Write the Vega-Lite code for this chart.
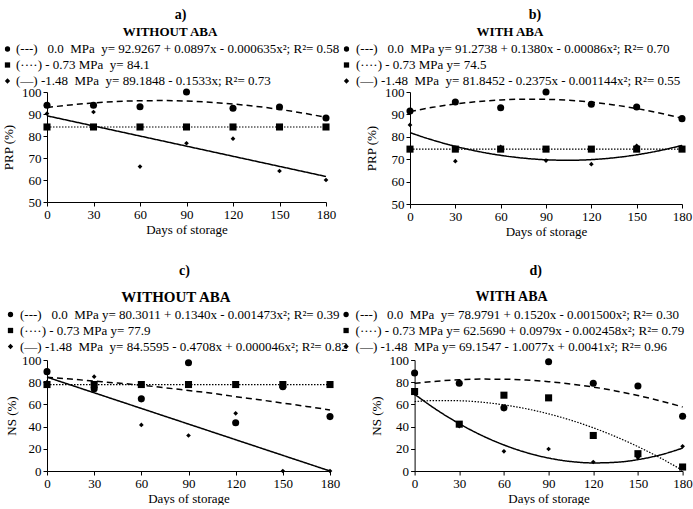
{
  "$schema": "https://vega.github.io/schema/vega-lite/v6.json",
  "background": "white",
  "padding": {"left": 1, "top": 7, "right": 0, "bottom": 0},
  "config": {
    "font": "Liberation Serif",
    "view": {"stroke": null},
    "axis": {"grid": false, "domainColor": "black", "tickColor": "black", "labelColor": "black", "titleColor": "black", "labelFont": "Liberation Serif", "titleFont": "Liberation Serif", "labelFontSize": 13, "titleFontSize": 13, "titleFontWeight": "normal", "tickSize": 4, "labelPadding": 2, "labelOverlap": false, "labelFlush": false},
    "axisX": {"titlePadding": 2},
    "axisY": {"titlePadding": 6},
    "legend": {"titleFont": "Liberation Serif", "titleFontSize": 13, "titleFontWeight": "bold", "titleColor": "black", "titleAnchor": "middle", "labelFont": "Liberation Serif", "labelFontSize": 13, "labelColor": "black", "labelLimit": 500, "symbolSize": 28, "symbolFillColor": "black", "symbolStrokeColor": "black", "symbolStrokeWidth": 0, "rowPadding": 2, "labelOffset": 3, "padding": 0, "titlePadding": 4},
    "title": {"font": "Liberation Serif", "fontSize": 14, "fontWeight": "bold", "color": "black", "anchor": "middle", "frame": "group"}
  },
  "datasets": {
    "a_pts": [
      {"s": "0.0", "x": 0, "y": 94}, {"s": "0.0", "x": 30, "y": 94}, {"s": "0.0", "x": 60, "y": 93.3}, {"s": "0.0", "x": 90, "y": 100}, {"s": "0.0", "x": 120, "y": 92.6}, {"s": "0.0", "x": 150, "y": 93.2}, {"s": "0.0", "x": 180, "y": 88.2},
      {"s": "-0.73", "x": 0, "y": 84.1}, {"s": "-0.73", "x": 30, "y": 84.1}, {"s": "-0.73", "x": 60, "y": 84.1}, {"s": "-0.73", "x": 90, "y": 84.1}, {"s": "-0.73", "x": 120, "y": 84.1}, {"s": "-0.73", "x": 150, "y": 84.1}, {"s": "-0.73", "x": 180, "y": 84.1},
      {"s": "-1.48", "x": 0, "y": 90.2}, {"s": "-1.48", "x": 30, "y": 90.9}, {"s": "-1.48", "x": 60, "y": 66.1}, {"s": "-1.48", "x": 90, "y": 76.7}, {"s": "-1.48", "x": 120, "y": 78.8}, {"s": "-1.48", "x": 150, "y": 64.1}, {"s": "-1.48", "x": 180, "y": 60}
    ],
    "a_fit": [
      {"s": "0.0", "x": 0, "y": 92.93}, {"s": "0.0", "x": 15, "y": 94.13}, {"s": "0.0", "x": 30, "y": 95.05}, {"s": "0.0", "x": 45, "y": 95.68}, {"s": "0.0", "x": 60, "y": 96.02}, {"s": "0.0", "x": 75, "y": 96.09}, {"s": "0.0", "x": 90, "y": 95.86}, {"s": "0.0", "x": 105, "y": 95.35}, {"s": "0.0", "x": 120, "y": 94.55}, {"s": "0.0", "x": 135, "y": 93.47}, {"s": "0.0", "x": 150, "y": 92.1}, {"s": "0.0", "x": 165, "y": 90.44}, {"s": "0.0", "x": 180, "y": 88.5},
      {"s": "-0.73", "x": 0, "y": 84.1}, {"s": "-0.73", "x": 180, "y": 84.1},
      {"s": "-1.48", "x": 0, "y": 89.18}, {"s": "-1.48", "x": 180, "y": 61.59}
    ],
    "b_pts": [
      {"s": "0.0", "x": 0, "y": 91.5}, {"s": "0.0", "x": 30, "y": 95.5}, {"s": "0.0", "x": 60, "y": 93}, {"s": "0.0", "x": 90, "y": 100}, {"s": "0.0", "x": 120, "y": 94.5}, {"s": "0.0", "x": 150, "y": 93.3}, {"s": "0.0", "x": 180, "y": 88.1},
      {"s": "-0.73", "x": 0, "y": 74.5}, {"s": "-0.73", "x": 30, "y": 74.5}, {"s": "-0.73", "x": 60, "y": 74.5}, {"s": "-0.73", "x": 90, "y": 74.5}, {"s": "-0.73", "x": 120, "y": 74.5}, {"s": "-0.73", "x": 150, "y": 74.5}, {"s": "-0.73", "x": 180, "y": 74.5},
      {"s": "-1.48", "x": 0, "y": 85.3}, {"s": "-1.48", "x": 30, "y": 69.1}, {"s": "-1.48", "x": 60, "y": 75.5}, {"s": "-1.48", "x": 90, "y": 69.4}, {"s": "-1.48", "x": 120, "y": 67.8}, {"s": "-1.48", "x": 150, "y": 76}, {"s": "-1.48", "x": 180, "y": 75.2}
    ],
    "b_fit": [
      {"s": "0.0", "x": 0, "y": 91.27}, {"s": "0.0", "x": 15, "y": 93.15}, {"s": "0.0", "x": 30, "y": 94.64}, {"s": "0.0", "x": 45, "y": 95.74}, {"s": "0.0", "x": 60, "y": 96.45}, {"s": "0.0", "x": 75, "y": 96.78}, {"s": "0.0", "x": 90, "y": 96.72}, {"s": "0.0", "x": 105, "y": 96.28}, {"s": "0.0", "x": 120, "y": 95.45}, {"s": "0.0", "x": 135, "y": 94.23}, {"s": "0.0", "x": 150, "y": 92.62}, {"s": "0.0", "x": 165, "y": 90.63}, {"s": "0.0", "x": 180, "y": 88.25},
      {"s": "-0.73", "x": 0, "y": 74.5}, {"s": "-0.73", "x": 180, "y": 74.5},
      {"s": "-1.48", "x": 0, "y": 81.85}, {"s": "-1.48", "x": 15, "y": 78.54}, {"s": "-1.48", "x": 30, "y": 75.75}, {"s": "-1.48", "x": 45, "y": 73.48}, {"s": "-1.48", "x": 60, "y": 71.72}, {"s": "-1.48", "x": 75, "y": 70.48}, {"s": "-1.48", "x": 90, "y": 69.74}, {"s": "-1.48", "x": 105, "y": 69.52}, {"s": "-1.48", "x": 120, "y": 69.82}, {"s": "-1.48", "x": 135, "y": 70.64}, {"s": "-1.48", "x": 150, "y": 71.96}, {"s": "-1.48", "x": 165, "y": 73.81}, {"s": "-1.48", "x": 180, "y": 76.17}
    ],
    "c_pts": [
      {"s": "0.0", "x": 0, "y": 89.5}, {"s": "0.0", "x": 30, "y": 74}, {"s": "0.0", "x": 60, "y": 65}, {"s": "0.0", "x": 90, "y": 97.5}, {"s": "0.0", "x": 120, "y": 43.5}, {"s": "0.0", "x": 150, "y": 76}, {"s": "0.0", "x": 180, "y": 49},
      {"s": "-0.73", "x": 0, "y": 77.9}, {"s": "-0.73", "x": 30, "y": 77.9}, {"s": "-0.73", "x": 60, "y": 77.9}, {"s": "-0.73", "x": 90, "y": 77.9}, {"s": "-0.73", "x": 120, "y": 77.9}, {"s": "-0.73", "x": 150, "y": 77.9}, {"s": "-0.73", "x": 180, "y": 77.9},
      {"s": "-1.48", "x": 0, "y": 80}, {"s": "-1.48", "x": 30, "y": 85}, {"s": "-1.48", "x": 60, "y": 41.5}, {"s": "-1.48", "x": 90, "y": 32}, {"s": "-1.48", "x": 120, "y": 52}, {"s": "-1.48", "x": 150, "y": 0}, {"s": "-1.48", "x": 180, "y": 0}
    ],
    "c_fit": [
      {"s": "0.0", "x": 0, "y": 84.5}, {"s": "0.0", "x": 15, "y": 82.8}, {"s": "0.0", "x": 30, "y": 81}, {"s": "0.0", "x": 45, "y": 79.2}, {"s": "0.0", "x": 60, "y": 77.3}, {"s": "0.0", "x": 75, "y": 75}, {"s": "0.0", "x": 90, "y": 72.5}, {"s": "0.0", "x": 105, "y": 70}, {"s": "0.0", "x": 120, "y": 67}, {"s": "0.0", "x": 135, "y": 64.2}, {"s": "0.0", "x": 150, "y": 61.2}, {"s": "0.0", "x": 165, "y": 58.2}, {"s": "0.0", "x": 180, "y": 55},
      {"s": "-0.73", "x": 0, "y": 77.9}, {"s": "-0.73", "x": 180, "y": 77.9},
      {"s": "-1.48", "x": 0, "y": 84.56}, {"s": "-1.48", "x": 180, "y": 0}
    ],
    "d_pts": [
      {"s": "0.0", "x": 0, "y": 88.3}, {"s": "0.0", "x": 30, "y": 79}, {"s": "0.0", "x": 60, "y": 56.9}, {"s": "0.0", "x": 90, "y": 98.5}, {"s": "0.0", "x": 120, "y": 79}, {"s": "0.0", "x": 150, "y": 76.6}, {"s": "0.0", "x": 180, "y": 49.4},
      {"s": "-0.73", "x": 0, "y": 71.6}, {"s": "-0.73", "x": 30, "y": 42.2}, {"s": "-0.73", "x": 60, "y": 68.3}, {"s": "-0.73", "x": 90, "y": 65.9}, {"s": "-0.73", "x": 120, "y": 32}, {"s": "-0.73", "x": 150, "y": 15.6}, {"s": "-0.73", "x": 180, "y": 3.6},
      {"s": "-1.48", "x": 0, "y": 70}, {"s": "-1.48", "x": 30, "y": 40.4}, {"s": "-1.48", "x": 60, "y": 17.7}, {"s": "-1.48", "x": 90, "y": 19.8}, {"s": "-1.48", "x": 120, "y": 8.1}, {"s": "-1.48", "x": 150, "y": 12}, {"s": "-1.48", "x": 180, "y": 22.2}
    ],
    "d_fit": [
      {"s": "0.0", "x": 0, "y": 78.98}, {"s": "0.0", "x": 15, "y": 80.92}, {"s": "0.0", "x": 30, "y": 82.19}, {"s": "0.0", "x": 45, "y": 82.78}, {"s": "0.0", "x": 60, "y": 82.7}, {"s": "0.0", "x": 75, "y": 81.94}, {"s": "0.0", "x": 90, "y": 80.51}, {"s": "0.0", "x": 105, "y": 78.4}, {"s": "0.0", "x": 120, "y": 75.62}, {"s": "0.0", "x": 135, "y": 72.16}, {"s": "0.0", "x": 150, "y": 68.03}, {"s": "0.0", "x": 165, "y": 63.22}, {"s": "0.0", "x": 180, "y": 57.74},
      {"s": "-0.73", "x": 0, "y": 62.57}, {"s": "-0.73", "x": 15, "y": 63.49}, {"s": "-0.73", "x": 30, "y": 63.3}, {"s": "-0.73", "x": 45, "y": 62.0}, {"s": "-0.73", "x": 60, "y": 59.59}, {"s": "-0.73", "x": 75, "y": 56.08}, {"s": "-0.73", "x": 90, "y": 51.47}, {"s": "-0.73", "x": 105, "y": 45.75}, {"s": "-0.73", "x": 120, "y": 38.92}, {"s": "-0.73", "x": 135, "y": 30.99}, {"s": "-0.73", "x": 150, "y": 21.95}, {"s": "-0.73", "x": 165, "y": 11.8}, {"s": "-0.73", "x": 180, "y": 0.55},
      {"s": "-1.48", "x": 0, "y": 69.15}, {"s": "-1.48", "x": 15, "y": 54.95}, {"s": "-1.48", "x": 30, "y": 42.61}, {"s": "-1.48", "x": 45, "y": 32.1}, {"s": "-1.48", "x": 60, "y": 23.45}, {"s": "-1.48", "x": 75, "y": 16.63}, {"s": "-1.48", "x": 90, "y": 11.67}, {"s": "-1.48", "x": 105, "y": 8.54}, {"s": "-1.48", "x": 120, "y": 7.27}, {"s": "-1.48", "x": 135, "y": 7.83}, {"s": "-1.48", "x": 150, "y": 10.24}, {"s": "-1.48", "x": 165, "y": 14.5}, {"s": "-1.48", "x": 180, "y": 20.6}
    ]
  },
  "spacing": 26,
  "resolve": {"scale": {"shape": "independent", "x": "independent", "y": "independent"}, "legend": {"shape": "independent"}, "axis": {"x": "independent", "y": "independent"}},
  "vconcat": [
    {
      "bounds": "flush",
      "spacing": 84,
      "resolve": {"scale": {"shape": "independent", "x": "independent", "y": "independent"}, "legend": {"shape": "independent"}, "axis": {"x": "independent", "y": "independent"}},
      "hconcat": [
        {
          "width": 279, "height": 110,
          "title": {"text": "a)", "dx": -6, "offset": 4},
          "layer": [
            {
              "data": {"name": "a_fit"},
              "mark": {"type": "line", "color": "black", "interpolate": "monotone"},
              "encoding": {
                "x": {"field": "x", "type": "quantitative", "scale": {"domain": [0, 180]}, "axis": {"values": [0, 30, 60, 90, 120, 150, 180], "tickCount": 7, "title": "Days of storage", "labelOverlap": false}},
                "y": {"field": "y", "type": "quantitative", "scale": {"domain": [50, 100]}, "axis": {"values": [50, 60, 70, 80, 90, 100], "tickCount": 6, "title": "PRP (%)", "labelOverlap": false, "titlePadding": 6}},
                "detail": {"field": "s", "type": "nominal"},
                "strokeDash": {"condition": [{"test": "datum.s == '0.0'", "value": [6, 4]}, {"test": "datum.s == '-0.73'", "value": [1.5, 1.5]}], "value": [1, 0]},
                "strokeWidth": {"condition": {"test": "datum.s == '-0.73'", "value": 1.2}, "value": 1.5}
              }
            },
            {
              "data": {"name": "a_pts"},
              "mark": {"type": "point", "filled": true, "color": "black", "opacity": 1},
              "encoding": {
                "x": {"field": "x", "type": "quantitative"},
                "y": {"field": "y", "type": "quantitative"},
                "size": {"condition": {"test": "datum.s == '-1.48'", "value": 22}, "value": 50},
                "shape": {"field": "s", "type": "nominal", "scale": {"domain": ["0.0", "-0.73", "-1.48"], "range": ["circle", "square", "diamond"]},
                  "legend": {"title": "WITHOUT ABA", "orient": "none", "legendX": -46, "legendY": -66.5, "labelOffset": 2,
                    "labelExpr": "datum.label == '0.0' ? '(---)\u00a0\u00a0 0.0 \u00a0MPa \u00a0y= 92.9267 + 0.0897x - 0.000635x²; R²= 0.58' : datum.label == '-0.73' ? '(····) - 0.73 MPa \u00a0y= 84.1' : '(—) -1.48 \u00a0MPa \u00a0y= 89.1848 - 0.1533x; R²= 0.73'"}}
              }
            }
          ]
        },
        {
          "width": 272, "height": 112,
          "title": {"text": "b)", "dx": -11, "offset": 4},
          "layer": [
            {
              "data": {"name": "b_fit"},
              "mark": {"type": "line", "color": "black", "interpolate": "monotone"},
              "encoding": {
                "x": {"field": "x", "type": "quantitative", "scale": {"domain": [0, 180]}, "axis": {"values": [0, 30, 60, 90, 120, 150, 180], "tickCount": 7, "title": "Days of storage", "labelOverlap": false}},
                "y": {"field": "y", "type": "quantitative", "scale": {"domain": [50, 100]}, "axis": {"values": [50, 60, 70, 80, 90, 100], "tickCount": 6, "title": "PRP (%)", "labelOverlap": false}},
                "detail": {"field": "s", "type": "nominal"},
                "strokeDash": {"condition": [{"test": "datum.s == '0.0'", "value": [6, 4]}, {"test": "datum.s == '-0.73'", "value": [1.5, 1.5]}], "value": [1, 0]},
                "strokeWidth": {"condition": {"test": "datum.s == '-0.73'", "value": 1.2}, "value": 1.5}
              }
            },
            {
              "data": {"name": "b_pts"},
              "mark": {"type": "point", "filled": true, "color": "black", "opacity": 1},
              "encoding": {
                "x": {"field": "x", "type": "quantitative"},
                "y": {"field": "y", "type": "quantitative"},
                "size": {"condition": {"test": "datum.s == '-1.48'", "value": 22}, "value": 50},
                "shape": {"field": "s", "type": "nominal", "scale": {"domain": ["0.0", "-0.73", "-1.48"], "range": ["circle", "square", "diamond"]},
                  "legend": {"title": "WITH ABA", "orient": "none", "legendX": -70, "legendY": -66.5,
                    "labelExpr": "datum.label == '0.0' ? '(---)\u00a0\u00a0 0.0 \u00a0MPa y= 91.2738 + 0.1380x - 0.00086x²; R²= 0.70' : datum.label == '-0.73' ? '(····) - 0.73 MPa y= 74.5' : '(—) -1.48 \u00a0MPa \u00a0y= 81.8452 - 0.2375x - 0.001144x²; R²= 0.55'"}}
              }
            }
          ]
        }
      ]
    },
    {
      "bounds": "flush",
      "spacing": 84.6,
      "resolve": {"scale": {"shape": "independent", "x": "independent", "y": "independent"}, "legend": {"shape": "independent"}, "axis": {"x": "independent", "y": "independent"}},
      "hconcat": [
        {
          "width": 283, "height": 111,
          "title": {"text": "c)", "dx": -4, "offset": 12},
          "layer": [
            {
              "data": {"name": "c_fit"},
              "mark": {"type": "line", "color": "black", "interpolate": "monotone"},
              "encoding": {
                "x": {"field": "x", "type": "quantitative", "scale": {"domain": [0, 180]}, "axis": {"values": [0, 30, 60, 90, 120, 150, 180], "tickCount": 7, "title": "Days of storage", "labelOverlap": false}},
                "y": {"field": "y", "type": "quantitative", "scale": {"domain": [0, 100]}, "axis": {"values": [0, 20, 40, 60, 80, 100], "tickCount": 6, "title": "NS (%)", "labelOverlap": false, "titlePadding": 3}},
                "detail": {"field": "s", "type": "nominal"},
                "strokeDash": {"condition": [{"test": "datum.s == '0.0'", "value": [6, 4]}, {"test": "datum.s == '-0.73'", "value": [1.5, 1.5]}], "value": [1, 0]},
                "strokeWidth": {"condition": {"test": "datum.s == '-0.73'", "value": 1.2}, "value": 1.5}
              }
            },
            {
              "data": {"name": "c_pts"},
              "mark": {"type": "point", "filled": true, "color": "black", "opacity": 1},
              "encoding": {
                "x": {"field": "x", "type": "quantitative"},
                "y": {"field": "y", "type": "quantitative"},
                "size": {"condition": {"test": "datum.s == '-1.48'", "value": 22}, "value": 50},
                "shape": {"field": "s", "type": "nominal", "scale": {"domain": ["0.0", "-0.73", "-1.48"], "range": ["circle", "square", "diamond"]},
                  "legend": {"title": "WITHOUT ABA", "titleFontSize": 15, "titlePadding": 3, "orient": "none", "legendX": -43, "legendY": -70,
                    "labelExpr": "datum.label == '0.0' ? '(---)\u00a0\u00a0 0.0 \u00a0MPa y= 80.3011 + 0.1340x - 0.001473x²; R²= 0.39' : datum.label == '-0.73' ? '(····) - 0.73 MPa y= 77.9' : '(—) -1.48 \u00a0MPa \u00a0y= 84.5595 - 0.4708x + 0.000046x²; R²= 0.82'"}}
              }
            }
          ]
        },
        {
          "width": 268, "height": 111,
          "title": {"text": "d)", "dx": -13, "offset": 12},
          "layer": [
            {
              "data": {"name": "d_fit"},
              "mark": {"type": "line", "color": "black", "interpolate": "monotone"},
              "encoding": {
                "x": {"field": "x", "type": "quantitative", "scale": {"domain": [0, 180]}, "axis": {"values": [0, 30, 60, 90, 120, 150, 180], "tickCount": 7, "title": "Days of storage", "labelOverlap": false}},
                "y": {"field": "y", "type": "quantitative", "scale": {"domain": [0, 100]}, "axis": {"values": [0, 20, 40, 60, 80, 100], "tickCount": 6, "title": "NS (%)", "labelOverlap": false}},
                "detail": {"field": "s", "type": "nominal"},
                "strokeDash": {"condition": [{"test": "datum.s == '0.0'", "value": [6, 4]}, {"test": "datum.s == '-0.73'", "value": [1.5, 1.5]}], "value": [1, 0]},
                "strokeWidth": {"condition": {"test": "datum.s == '-0.73'", "value": 1.2}, "value": 1.5}
              }
            },
            {
              "data": {"name": "d_pts"},
              "mark": {"type": "point", "filled": true, "color": "black", "opacity": 1},
              "encoding": {
                "x": {"field": "x", "type": "quantitative"},
                "y": {"field": "y", "type": "quantitative"},
                "size": {"condition": {"test": "datum.s == '-1.48'", "value": 22}, "value": 50},
                "shape": {"field": "s", "type": "nominal", "scale": {"domain": ["0.0", "-0.73", "-1.48"], "range": ["circle", "square", "diamond"]},
                  "legend": {"title": "WITH ABA", "titleFontSize": 14, "titlePadding": 4, "orient": "none", "legendX": -75, "legendY": -70,
                    "labelExpr": "datum.label == '0.0' ? '(---)\u00a0\u00a0 0.0 \u00a0MPa \u00a0y= 78.9791 + 0.1520x - 0.001500x²; R²= 0.30' : datum.label == '-0.73' ? '(····) - 0.73 MPa y= 62.5690 + 0.0979x - 0.002458x²; R²= 0.79' : '(—) -1.48 \u00a0MPa y= 69.1547 - 1.0077x + 0.0041x²; R²= 0.96'"}}
              }
            }
          ]
        }
      ]
    }
  ]
}
